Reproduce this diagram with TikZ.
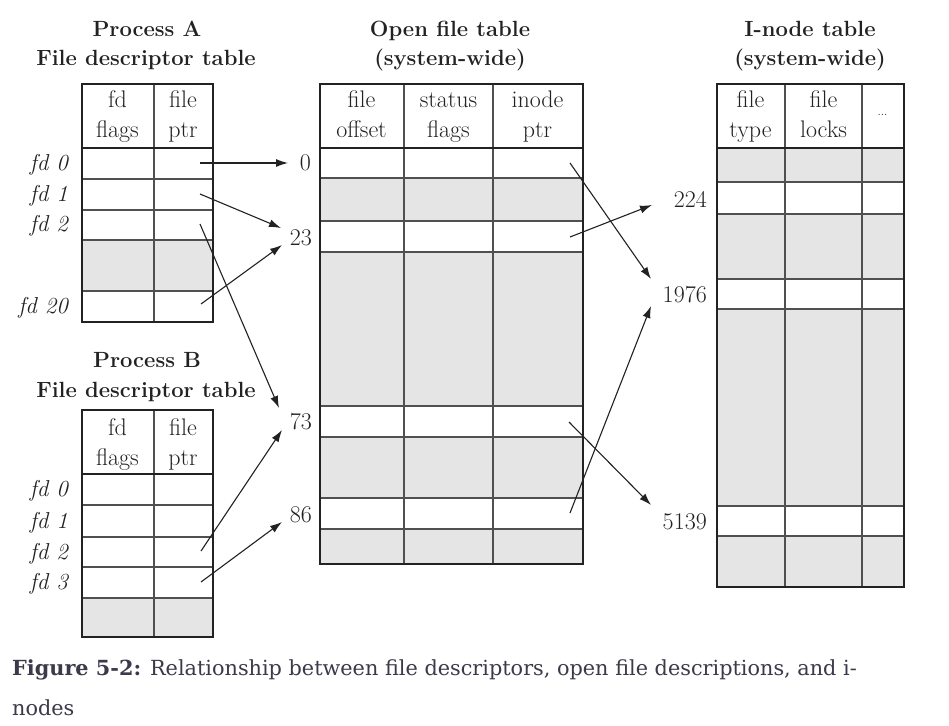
\documentclass[tikz,border=0pt]{standalone}
\usepackage{fontspec}
\usetikzlibrary{arrows.meta}
\newfontfamily\capfont{DejaVu Serif}
\definecolor{ink}{HTML}{222222}
\definecolor{cellgray}{HTML}{E5E5E5}
\definecolor{rulec}{HTML}{505050}
\definecolor{captxt}{HTML}{3A3A4A}
\tikzset{
  tbl/.style={draw=ink, line width=2pt, inner sep=0pt, anchor=north west},
  inner/.style={draw=rulec, line width=1.2pt},
  hsep/.style={draw=ink, line width=2pt},
  graycell/.style={fill=cellgray},
  cell/.style={text=ink, font=\fontsize{24}{30}\selectfont, align=center, inner sep=0pt, anchor=base},
  title/.style={text=ink, font=\bfseries\fontsize{22}{28}\selectfont, align=center, inner sep=0pt, anchor=base},
  fdl/.style={text=ink, font=\itshape\fontsize{23}{28}\selectfont, inner sep=0pt, anchor=base east},
  num/.style={text=ink, font=\fontsize{24}{28}\selectfont, inner sep=0pt, anchor=base east},
  ptr/.style={draw=ink, line width=1.1pt, -{Latex[length=12pt,width=8pt]}},
  captext/.style={anchor=base west, inner sep=0pt, text=captxt, font=\capfont\fontsize{20.8}{24}\selectfont},
}
\begin{document}
\begin{tikzpicture}[x=1pt,y=-1pt]
\useasboundingbox[fill=white] (0,0) rectangle (949,725);

% ---------- titles ----------
\node[title] (tA1) at (147,37) {Process A};
\node[title] (tA2) at (146,65) {File descriptor table};
\node[title] (tB1) at (147,367) {Process B};
\node[title] (tB2) at (146,397) {File descriptor table};
\node[title] (tO1) at (450,37) {Open file table};
\node[title] (tO2) at (450,65) {(system-wide)};
\node[title] (tI1) at (810,37) {I-node table};
\node[title] (tI2) at (810,65) {(system-wide)};

% ---------- Process A table ----------
\path[graycell] (81,240) rectangle (212,291);
\draw[inner] (154,83) -- (154,321);
\foreach \y in {179,210,240,291} \draw[inner] (81,\y) -- (212,\y);
\draw[hsep] (81,148) -- (212,148);
\node[tbl, minimum width=131pt, minimum height=238pt] (tabA) at (81,83) {};
\node[cell] (hA1) at (117.5,137) {fd\\flags};
\node[cell] (hA2) at (183,137) {file\\ptr};
\node[fdl] (fa0) at (68,170) {fd 0};
\node[fdl] (fa1) at (68,201) {fd 1};
\node[fdl] (fa2) at (68,231) {fd 2};
\node[fdl] (fa20) at (68,313) {fd 20};

% ---------- Process B table ----------
\path[graycell] (81,598) rectangle (212,636);
\draw[inner] (154,409) -- (154,636);
\foreach \y in {505,537,567,598} \draw[inner] (81,\y) -- (212,\y);
\draw[hsep] (81,474) -- (212,474);
\node[tbl, minimum width=131pt, minimum height=227pt] (tabB) at (81,409) {};
\node[cell] (hB1) at (117.5,465) {fd\\flags};
\node[cell] (hB2) at (183,465) {file\\ptr};
\node[fdl] (fb0) at (68,496) {fd 0};
\node[fdl] (fb1) at (68,528) {fd 1};
\node[fdl] (fb2) at (68,559) {fd 2};
\node[fdl] (fb3) at (68,589) {fd 3};

% ---------- Open file table ----------
\foreach \a/\b in {178/221,252/406,437/498,529/563} \path[graycell] (319,\a) rectangle (582,\b);
\draw[inner] (404,83) -- (404,563);
\draw[inner] (493,83) -- (493,563);
\foreach \y in {178,221,252,406,437,498,529} \draw[inner] (319,\y) -- (582,\y);
\draw[hsep] (319,148) -- (582,148);
\node[tbl, minimum width=263pt, minimum height=480pt] (tabO) at (319,83) {};
\node[cell] (hO1) at (361.5,137) {file\\offset};
\node[cell] (hO2) at (448.5,137) {status\\flags};
\node[cell] (hO3) at (537.5,137) {inode\\ptr};
\node[num] (n0) at (311,170) {0};
\node[num] (n23) at (312,245) {23};
\node[num] (n73) at (312,429) {73};
\node[num] (n86) at (312,522) {86};

% ---------- I-node table ----------
\foreach \a/\b in {148/182,214/279,309/506,536/586} \path[graycell] (716,\a) rectangle (903,\b);
\draw[inner] (785,83) -- (785,586);
\draw[inner] (862,83) -- (862,586);
\foreach \y in {182,214,279,309,506,536} \draw[inner] (716,\y) -- (903,\y);
\draw[hsep] (716,148) -- (903,148);
\node[tbl, minimum width=187pt, minimum height=503pt] (tabI) at (716,83) {};
\node[cell] (hI1) at (750.5,137) {file\\type};
\node[cell] (hI2) at (823.5,137) {file\\locks};
\node[text=ink, inner sep=0pt, font=\fontsize{12}{12}\selectfont] (hI3) at (882.5,115) {...};
\node[num] (n224) at (707,207) {224};
\node[num] (n1976) at (707,302) {1976};
\node[num] (n5139) at (707,529) {5139};

% ---------- pointer coordinates ----------
\coordinate (sA0) at (200,163);
\coordinate (sA1) at (200,194);
\coordinate (sA2) at (200,224);
\coordinate (sA20) at (201,304);
\coordinate (sB2) at (201,551);
\coordinate (sB3) at (201,582);
\coordinate (eA0) at (288,163);
\coordinate (eA1) at (281,228);
\coordinate (eA2) at (279,408);
\coordinate (eA20) at (282,245);
\coordinate (eB2) at (282,430);
\coordinate (eB3) at (282,522);
\coordinate (sO0) at (570,163);
\coordinate (sO23) at (570,237);
\coordinate (sO73) at (569,422);
\coordinate (sO86) at (570,513);
\coordinate (eO0) at (651,279);
\coordinate (eO23) at (652,205);
\coordinate (eO73) at (651,505);
\coordinate (eO86) at (651,306);

% ---------- pointers ----------
\draw[ptr] (sA0) -- (eA0);
\draw[ptr] (sA1) -- (eA1);
\draw[ptr] (sA2) -- (eA2);
\draw[ptr] (sA20) -- (eA20);
\draw[ptr] (sB2) -- (eB2);
\draw[ptr] (sB3) -- (eB3);
\draw[ptr] (sO0) -- (eO0);
\draw[ptr] (sO23) -- (eO23);
\draw[ptr] (sO73) -- (eO73);
\draw[ptr] (sO86) -- (eO86);

% ---------- caption ----------
\node[captext] (cap1) at (12,675)
  {\textbf{Figure 5-2:} Relationship between file descriptors, open file descriptions, and i-};
\node[captext] (cap2) at (12,715) {nodes};
\end{tikzpicture}
\end{document}
